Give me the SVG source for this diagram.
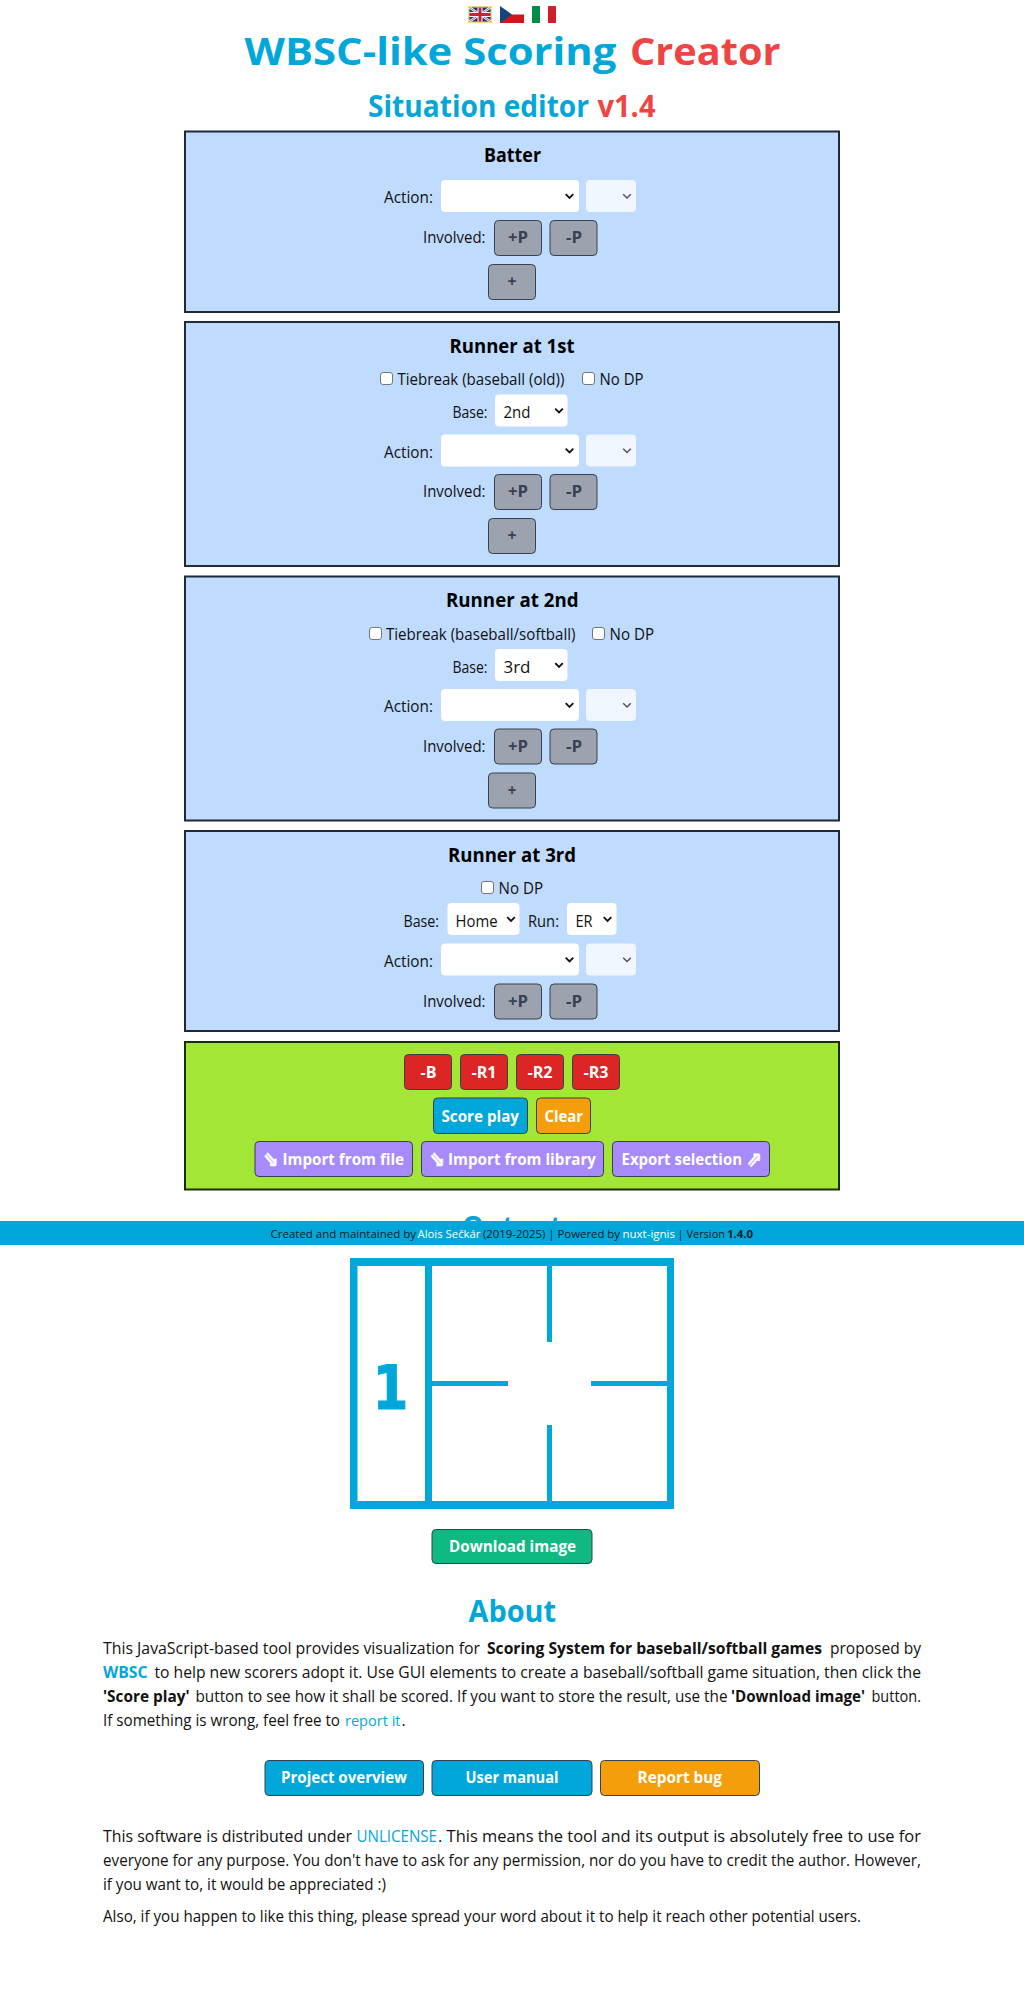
<svg xmlns="http://www.w3.org/2000/svg" width="1024" height="1992" viewBox="0 0 1024 1992">
<style>
text{font-family:"Open Sans","Noto Sans","DejaVu Sans",sans-serif;font-size:16px;fill:#111;white-space:pre}
.b{font-weight:700}
.blue{fill:#02a7d9}.red{fill:#ef4444}
.h2{font-size:30px;font-weight:700}
.h3{font-size:20px;font-weight:700;fill:#000}
.panel{fill:#bfdbfe;stroke:#1f2937;stroke-width:2}
.green{fill:#a3e635;stroke:#1a2e05;stroke-width:2}
.sel{fill:#fff}.dis{fill:#eff6ff}
.chev{fill:none;stroke:#111;stroke-width:1.8}
.chevd{fill:none;stroke:#4b5563;stroke-width:1.5}
.chk{fill:#fff;stroke:#767676;stroke-width:1}
.btn{stroke:#374151;stroke-width:1}
.gray{fill:#9ca3af}.gt{fill:#374151;font-weight:700}
.wt{fill:#fff;font-weight:700}
.ar{font-family:"DejaVu Sans",sans-serif;font-size:21px;fill:#fff;stroke:#fff;stroke-width:.6;font-weight:700}
.f{font-size:11.3px;fill:#0b1b26}.fw{font-size:11.3px;fill:#fff}
.box{fill:#02a7d9}
</style>
<defs>
<path id="cv" class="chev" d="M-3.8-1.8 0 2 3.8-1.8"/>
<path id="cvd" class="chevd" d="M-3.8-1.8 0 2 3.8-1.8"/>
<g id="act">
<rect class="sel" x="441" y="0" width="138" height="32" rx="4"/>
<rect class="dis" x="586" y="0" width="50" height="32" rx="4"/>
<use href="#cv" x="569.5" y="16"/>
<use href="#cvd" x="627" y="16"/>
<text x="384" y="23" textLength="49" lengthAdjust="spacingAndGlyphs">Action:</text>
</g>
<g id="inv">
<rect class="btn gray" x="494.5" y="0.5" width="47" height="35" rx="4"/>
<rect class="btn gray" x="550" y="0.5" width="47" height="35" rx="4"/>
<text x="423" y="23" textLength="62.5" lengthAdjust="spacingAndGlyphs">Involved:</text>
<text class="gt" x="508" y="23" textLength="20" lengthAdjust="spacingAndGlyphs">+P</text>
<text class="gt" x="566" y="23" textLength="16" lengthAdjust="spacingAndGlyphs">-P</text>
</g>
<g id="plus">
<rect class="btn gray" x="488.5" y="0.5" width="47" height="35" rx="4"/>
<text class="gt" x="507.5" y="23" textLength="9" lengthAdjust="spacingAndGlyphs">+</text>
</g>
</defs>

<g id="flags">
<g id="flag-uk">
<rect x="468" y="6" width="24" height="17" fill="#f9d778"/>
<rect x="469.5" y="7.5" width="21" height="14" fill="#1f2f6e"/>
<path d="M469.5 7.5 490.5 21.5M490.5 7.5 469.5 21.5" stroke="#fff" stroke-width="2.5"/>
<path d="M469.5 7.5 490.5 21.5M490.5 7.5 469.5 21.5" stroke="#c8213c" stroke-width="0.8"/>
<rect x="477.5" y="7.5" width="5" height="14" fill="#fff"/>
<rect x="469.5" y="12" width="21" height="5" fill="#fff"/>
<rect x="478.5" y="7.5" width="3" height="14" fill="#c8213c"/>
<rect x="469.5" y="13" width="21" height="3" fill="#c8213c"/>
</g>
<g id="flag-cz">
<rect x="500" y="6" width="24" height="8.5" fill="#fff"/>
<rect x="500" y="14.5" width="24" height="8.5" fill="#d7141a"/>
<path d="M500 6 512 14.5 500 23Z" fill="#11457e"/>
</g>
<g id="flag-it">
<rect x="532" y="6" width="8" height="17" fill="#008c45"/>
<rect x="540" y="6" width="8" height="17" fill="#fff"/>
<rect x="548" y="6" width="8" height="17" fill="#cd212a"/>
</g>
</g>

<g id="title">
<text class="blue b" style="font-size:38.4px" x="244.5" y="65" textLength="372" lengthAdjust="spacingAndGlyphs">WBSC-like Scoring</text>
<text class="red b" style="font-size:38.4px" x="630" y="65" textLength="150.5" lengthAdjust="spacingAndGlyphs">Creator</text>
<text class="blue h2" x="368" y="116.5" textLength="221" lengthAdjust="spacingAndGlyphs">Situation editor</text>
<text class="red h2" x="597.5" y="116.5" textLength="58" lengthAdjust="spacingAndGlyphs">v1.4</text>
</g>

<g id="panel-batter">
<rect class="panel" x="185" y="131.5" width="654" height="180.5"/>
<text class="h3" x="484" y="162" textLength="57" lengthAdjust="spacingAndGlyphs">Batter</text>
<use href="#act" y="180"/>
<use href="#inv" y="220"/>
<use href="#plus" y="264"/>
</g>

<g id="panel-r1">
<rect class="panel" x="185" y="322" width="654" height="244"/>
<text class="h3" x="449.5" y="353" textLength="125" lengthAdjust="spacingAndGlyphs">Runner at 1st</text>
<rect class="chk" x="380.5" y="372.5" width="12" height="12" rx="2.5"/>
<text x="397.5" y="385" textLength="167" lengthAdjust="spacingAndGlyphs">Tiebreak (baseball (old))</text>
<rect class="chk" x="582.5" y="372.5" width="12" height="12" rx="2.5"/>
<text x="599.5" y="385" textLength="44" lengthAdjust="spacingAndGlyphs">No DP</text>
<text x="452.5" y="418" textLength="35" lengthAdjust="spacingAndGlyphs">Base:</text>
<rect class="sel" x="495" y="394.5" width="72.5" height="32" rx="4"/>
<text x="503.5" y="418" textLength="27" lengthAdjust="spacingAndGlyphs">2nd</text>
<use href="#cv" x="559" y="410.5"/>
<use href="#act" y="434.5"/>
<use href="#inv" y="474"/>
<use href="#plus" y="518"/>
</g>

<g id="panel-r2">
<rect class="panel" x="185" y="576.5" width="654" height="244"/>
<text class="h3" x="446" y="607" textLength="132.5" lengthAdjust="spacingAndGlyphs">Runner at 2nd</text>
<rect class="chk" x="369.5" y="627.5" width="12" height="12" rx="2.5"/>
<text x="386" y="639.5" textLength="189.5" lengthAdjust="spacingAndGlyphs">Tiebreak (baseball/softball)</text>
<rect class="chk" x="592.5" y="627.5" width="12" height="12" rx="2.5"/>
<text x="609.5" y="639.5" textLength="44.5" lengthAdjust="spacingAndGlyphs">No DP</text>
<text x="452.5" y="672.5" textLength="35" lengthAdjust="spacingAndGlyphs">Base:</text>
<rect class="sel" x="495" y="649" width="72.5" height="32" rx="4"/>
<text x="503.5" y="672.5" textLength="27" lengthAdjust="spacingAndGlyphs">3rd</text>
<use href="#cv" x="559" y="665"/>
<use href="#act" y="689"/>
<use href="#inv" y="728.5"/>
<use href="#plus" y="772.5"/>
</g>

<g id="panel-r3">
<rect class="panel" x="185" y="831" width="654" height="200"/>
<text class="h3" x="448" y="862" textLength="128" lengthAdjust="spacingAndGlyphs">Runner at 3rd</text>
<rect class="chk" x="481.5" y="881.5" width="12" height="12" rx="2.5"/>
<text x="498.5" y="894" textLength="44.5" lengthAdjust="spacingAndGlyphs">No DP</text>
<text x="403.5" y="926.5" textLength="35.5" lengthAdjust="spacingAndGlyphs">Base:</text>
<rect class="sel" x="447.5" y="903" width="72" height="32" rx="4"/>
<text x="455.5" y="926.5" textLength="42" lengthAdjust="spacingAndGlyphs">Home</text>
<use href="#cv" x="511" y="919"/>
<text x="528" y="926.5" textLength="31" lengthAdjust="spacingAndGlyphs">Run:</text>
<rect class="sel" x="567" y="903" width="49.5" height="32" rx="4"/>
<text x="575.5" y="926.5" textLength="17" lengthAdjust="spacingAndGlyphs">ER</text>
<use href="#cv" x="607.5" y="919"/>
<use href="#act" y="943.5"/>
<use href="#inv" y="983.5"/>
</g>

<g id="panel-actions">
<rect class="green" x="185" y="1042" width="654" height="147.5"/>
<g id="btn-b"><rect class="btn" fill="#dc2626" x="404.5" y="1054.5" width="47" height="35" rx="4"/><text class="wt" x="420.5" y="1077.5" textLength="16" lengthAdjust="spacingAndGlyphs">-B</text></g>
<g id="btn-r1"><rect class="btn" fill="#dc2626" x="460.5" y="1054.5" width="47" height="35" rx="4"/><text class="wt" x="471.5" y="1077.5" textLength="25" lengthAdjust="spacingAndGlyphs">-R1</text></g>
<g id="btn-r2"><rect class="btn" fill="#dc2626" x="516.5" y="1054.5" width="47" height="35" rx="4"/><text class="wt" x="527.5" y="1077.5" textLength="25" lengthAdjust="spacingAndGlyphs">-R2</text></g>
<g id="btn-r3"><rect class="btn" fill="#dc2626" x="572.5" y="1054.5" width="47" height="35" rx="4"/><text class="wt" x="583.5" y="1077.5" textLength="25" lengthAdjust="spacingAndGlyphs">-R3</text></g>
<g id="btn-score"><rect class="btn" fill="#02a7d9" x="433.5" y="1098" width="94" height="35.5" rx="4"/><text class="wt" x="441.5" y="1121.5" textLength="77.5" lengthAdjust="spacingAndGlyphs">Score play</text></g>
<g id="btn-clear"><rect class="btn" fill="#f59e0b" x="536.5" y="1098" width="54" height="35.5" rx="4"/><text class="wt" x="544.5" y="1121.5" textLength="38.5" lengthAdjust="spacingAndGlyphs">Clear</text></g>
<g id="btn-import-file"><rect class="btn" fill="#a78bfa" x="255" y="1141.5" width="157.5" height="35" rx="4"/><text class="ar" x="263" y="1166" textLength="15.5" lengthAdjust="spacingAndGlyphs">⇘</text><text class="wt" x="282.5" y="1165" textLength="121.5" lengthAdjust="spacingAndGlyphs">Import from file</text></g>
<g id="btn-import-lib"><rect class="btn" fill="#a78bfa" x="421.5" y="1141.5" width="182" height="35" rx="4"/><text class="ar" x="429.5" y="1166" textLength="15.5" lengthAdjust="spacingAndGlyphs">⇘</text><text class="wt" x="448" y="1165" textLength="148" lengthAdjust="spacingAndGlyphs">Import from library</text></g>
<g id="btn-export"><rect class="btn" fill="#a78bfa" x="612.5" y="1141.5" width="157" height="35" rx="4"/><text class="wt" x="621.5" y="1165" textLength="120.5" lengthAdjust="spacingAndGlyphs">Export selection</text><text class="ar" x="746.5" y="1166" textLength="15.5" lengthAdjust="spacingAndGlyphs">⇗</text></g>
</g>

<g id="output-heading"><text class="blue h2" x="462" y="1238" textLength="100" lengthAdjust="spacingAndGlyphs">Output</text></g>

<g id="footer">
<rect x="0" y="1221" width="1024" height="24" fill="#02a7d9"/>
<text class="f" x="270.5" y="1238" textLength="145.5" lengthAdjust="spacingAndGlyphs">Created and maintained by</text>
<text class="fw" x="417.5" y="1238" textLength="63" lengthAdjust="spacingAndGlyphs">Alois Sečkár</text>
<text class="f" x="483" y="1238" textLength="137" lengthAdjust="spacingAndGlyphs">(2019-2025) | Powered by</text>
<text class="fw" x="622.5" y="1238" textLength="52.5" lengthAdjust="spacingAndGlyphs">nuxt-ignis</text>
<text class="f" x="677.5" y="1238" textLength="47.5" lengthAdjust="spacingAndGlyphs">| Version</text>
<text class="f b" x="727" y="1238" textLength="26" lengthAdjust="spacingAndGlyphs">1.4.0</text>
</g>

<g id="score-box">
<path class="box" fill-rule="evenodd" d="M350 1258H674V1509H350ZM357.5 1266V1501H425V1266ZM432 1266V1501H667V1266Z"/>
<rect class="box" x="547" y="1266" width="5" height="76"/>
<rect class="box" x="547" y="1425" width="5" height="76"/>
<rect class="box" x="432" y="1381" width="76" height="5"/>
<rect class="box" x="591" y="1381" width="76" height="5"/>
<text class="blue b" x="372.5" y="1408.5" stroke="#02a7d9" stroke-width="1" textLength="36" lengthAdjust="spacingAndGlyphs" style="font-family:'DejaVu Sans',sans-serif;font-size:61px">1</text>
</g>

<g id="btn-download"><rect class="btn" fill="#10b981" x="432" y="1529.5" width="160" height="34" rx="4"/><text class="wt" x="449" y="1552" textLength="127" lengthAdjust="spacingAndGlyphs">Download image</text></g>

<g id="about">
<text class="blue h2" x="468.5" y="1621.5" textLength="87.5" lengthAdjust="spacingAndGlyphs">About</text>
<text x="103" y="1653.5" textLength="377" lengthAdjust="spacingAndGlyphs">This JavaScript-based tool provides visualization for</text>
<text class="b" x="487" y="1653.5" textLength="335" lengthAdjust="spacingAndGlyphs">Scoring System for baseball/softball games</text>
<text x="830" y="1653.5" textLength="91" lengthAdjust="spacingAndGlyphs">proposed by</text>
<text class="blue b" x="103" y="1677.5" textLength="44.5" lengthAdjust="spacingAndGlyphs">WBSC</text>
<text x="154.5" y="1677.5" textLength="766.5" lengthAdjust="spacingAndGlyphs">to help new scorers adopt it. Use GUI elements to create a baseball/softball game situation, then click the</text>
<text class="b" x="103" y="1701.5" textLength="86.5" lengthAdjust="spacingAndGlyphs">'Score play'</text>
<text x="195.5" y="1701.5" textLength="532" lengthAdjust="spacingAndGlyphs">button to see how it shall be scored. If you want to store the result, use the</text>
<text class="b" x="731" y="1701.5" textLength="134" lengthAdjust="spacingAndGlyphs">'Download image'</text>
<text x="871.5" y="1701.5" textLength="49.5" lengthAdjust="spacingAndGlyphs">button.</text>
<text x="103" y="1725.5" textLength="237" lengthAdjust="spacingAndGlyphs">If something is wrong, feel free to</text>
<text class="blue" style="font-size:15.2px" x="345" y="1725.5" textLength="55.5" lengthAdjust="spacingAndGlyphs">report it</text>
<text x="401.5" y="1725.5">.</text>
</g>

<g id="links">
<g id="btn-overview"><rect class="btn" fill="#02a7d9" x="265" y="1760.5" width="158.5" height="35" rx="4"/><text class="wt" x="281" y="1783" textLength="126" lengthAdjust="spacingAndGlyphs">Project overview</text></g>
<g id="btn-manual"><rect class="btn" fill="#02a7d9" x="432" y="1760.5" width="160" height="35" rx="4"/><text class="wt" x="465.5" y="1783" textLength="93" lengthAdjust="spacingAndGlyphs">User manual</text></g>
<g id="btn-bug"><rect class="btn" fill="#f59e0b" x="600.5" y="1760.5" width="159" height="35" rx="4"/><text class="wt" x="637.5" y="1783" textLength="84.5" lengthAdjust="spacingAndGlyphs">Report bug</text></g>
</g>

<g id="license">
<text x="103" y="1841.5" textLength="249" lengthAdjust="spacingAndGlyphs">This software is distributed under</text>
<text class="blue" x="356.5" y="1841.5" textLength="80.5" lengthAdjust="spacingAndGlyphs">UNLICENSE</text>
<text x="438" y="1841.5" textLength="483" lengthAdjust="spacingAndGlyphs">. This means the tool and its output is absolutely free to use for</text>
<text x="103" y="1865.5" textLength="818" lengthAdjust="spacingAndGlyphs">everyone for any purpose. You don't have to ask for any permission, nor do you have to credit the author. However,</text>
<text x="103" y="1889.5" textLength="283" lengthAdjust="spacingAndGlyphs">if you want to, it would be appreciated :)</text>
<text x="103" y="1921.5" textLength="758" lengthAdjust="spacingAndGlyphs">Also, if you happen to like this thing, please spread your word about it to help it reach other potential users.</text>
</g>
</svg>
